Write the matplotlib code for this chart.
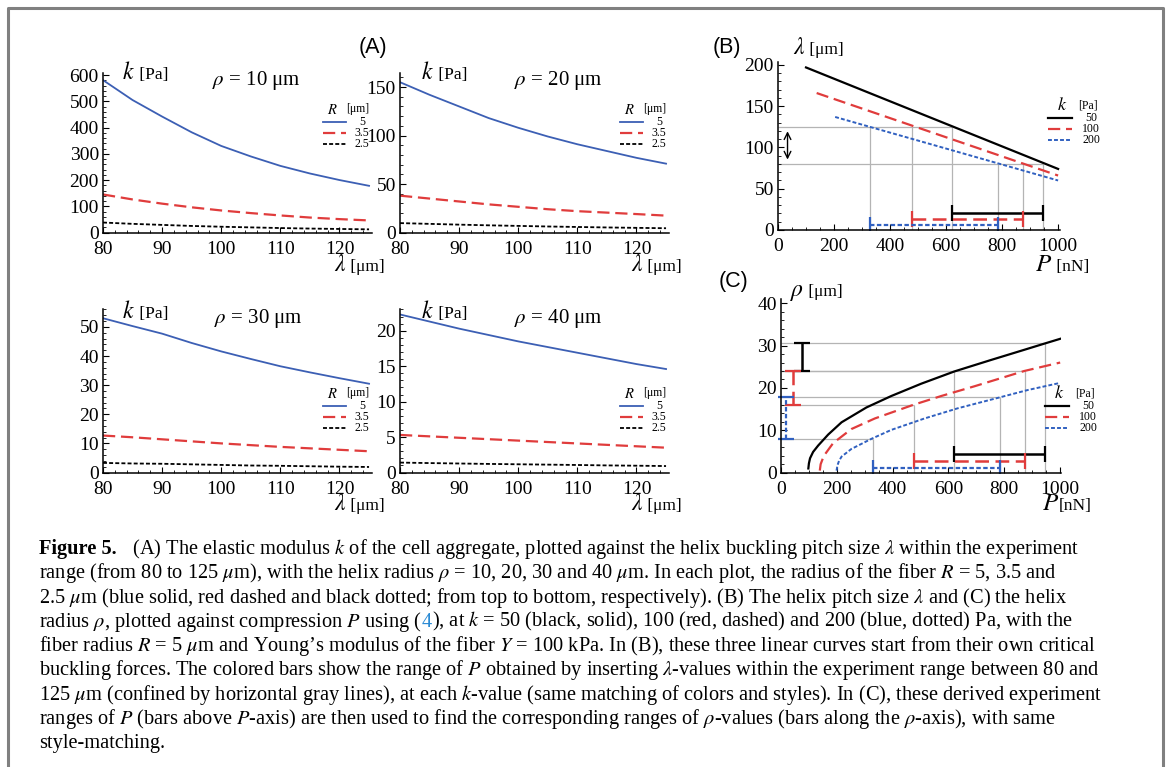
import matplotlib
matplotlib.use('Agg')
import matplotlib.pyplot as plt
from matplotlib.ticker import MultipleLocator

plt.rcParams['font.family'] = ['Liberation Serif', 'DejaVu Serif']
plt.rcParams['mathtext.fontset'] = 'stix'

# ---- data ----
# (A) elastic modulus k [Pa] vs pitch lambda [um], fiber radius R = 5, 3.5, 2.5
lam = [80, 85, 90, 95, 100, 105, 110, 115, 120, 125]
R_labels = ['5', '3.5', '2.5']

k_rho10 = [[581, 505, 442, 382, 330, 290, 254, 225, 200, 178],
           [145, 126, 110, 96, 84, 74, 65, 57, 51, 46],
           [38, 33, 29, 25, 22, 19.5, 17, 15, 13.5, 12]]
k_rho20 = [[155, 142, 130, 118, 108, 99, 91, 84, 77, 71],
           [38, 35, 32, 29, 26.5, 24, 22, 20.5, 19, 17.4],
           [9.7, 8.9, 8.1, 7.4, 6.8, 6.2, 5.7, 5.2, 4.8, 4.4]]
k_rho30 = [[53, 50.3, 47.7, 44.5, 41.6, 39, 36.5, 34.4, 32.4, 30.5],
           [12.7, 12.1, 11.4, 10.7, 10.0, 9.4, 8.8, 8.3, 7.8, 7.3],
           [3.3, 3.1, 3.0, 2.8, 2.6, 2.4, 2.3, 2.15, 2.0, 1.9]]
k_rho40 = [[22.3, 21.3, 20.3, 19.4, 18.5, 17.7, 16.9, 16.1, 15.3, 14.6],
           [5.3, 5.1, 4.9, 4.7, 4.5, 4.3, 4.1, 3.9, 3.7, 3.5],
           [1.4, 1.33, 1.27, 1.21, 1.16, 1.11, 1.06, 1.0, 0.96, 0.91]]

# (B) lambda vs P, straight lines for k = 50, 100, 200 Pa
k_labels = ['50', '100', '200']
P_start = [100, 138, 204]
lam_start = [197, 166, 137]
P_end = [1000, 1000, 1000]
lam_end = [74, 66, 60]
lam_exp = [80, 125]

# P ranges from the experiment lambda range
P_lo = [620, 477, 329]
P_hi = [947, 873, 784]
bar_lam_B = [21, 13.7, 6]

# (C) rho vs P
P_c = [[98, 100, 104, 115, 133, 169, 217, 306, 395, 502, 621, 752, 871, 945, 1000],
       [139, 142, 150, 157, 187, 252, 336, 473, 574, 693, 871, 1000],
       [199, 202, 208, 217, 252, 324, 395, 514, 633, 779, 883, 1000]]
rho_c = [[1.0, 2.2, 3.4, 4.9, 6.4, 9.0, 11.9, 15.4, 18.1, 21.0, 23.9, 26.6, 29.0, 30.5, 31.6],
         [0.5, 2.0, 3.4, 4.3, 7.0, 10.3, 12.8, 16.0, 18.1, 20.4, 24.0, 26.0],
         [0.5, 1.7, 2.8, 3.8, 5.6, 8.0, 10.1, 12.8, 15.2, 17.7, 19.5, 21.2]]
rho_lo = [24.0, 16.0, 8.0]
rho_hi = [30.6, 24.0, 17.8]
bar_P_C = [77, 44, 18]
bar_rho_C = [4.3, 2.8, 1.2]

# ---- styles ----
BLUE = '#3c5fb4'
RED = '#e03c3c'
GRAY = '#b4b4b4'
styleA = [dict(color=BLUE, lw=1.3, ls='-'),
          dict(color=RED, lw=1.6, ls=(0, (5.5, 2.6))),
          dict(color='k', lw=1.3, ls=(0, (2.2, 1.2)))]
styleBC = [dict(color='k', lw=1.6, ls='-'),
           dict(color=RED, lw=1.6, ls=(0, (5.5, 2.6))),
           dict(color='#3060c0', lw=1.4, ls=(0, (2.0, 1.1)))]

W, H = 1167, 767
fig = plt.figure(figsize=(W / 100, H / 100), dpi=100)


def make_ax(left, right, top, bottom, xlim, ylim, xmaj, xmin, ymaj, ymin):
    ax = fig.add_axes([left / W, 1 - bottom / H, (right - left) / W, (bottom - top) / H])
    ax.set_xlim(xlim)
    ax.set_ylim(ylim)
    ax.patch.set_visible(False)
    for s in ['top', 'right']:
        ax.spines[s].set_visible(False)
    for s in ['left', 'bottom']:
        ax.spines[s].set_linewidth(1.1)
    ax.xaxis.set_major_locator(MultipleLocator(xmaj))
    ax.xaxis.set_minor_locator(MultipleLocator(xmin))
    ax.yaxis.set_major_locator(MultipleLocator(ymaj))
    ax.yaxis.set_minor_locator(MultipleLocator(ymin))
    ax.tick_params(direction='in', length=4, width=0.8, labelsize=14)
    ax.tick_params(axis='x', pad=6)
    ax.tick_params(axis='y', pad=3)
    ax.tick_params(which='minor', direction='in', length=2, width=0.6)
    return ax


# (A) panels
boxes_A = [(103, 372, 72.5, 232.5, 610, 100, 20),
           (400, 669, 72.5, 232.5, 165, 50, 10),
           (103, 372, 309.5, 472.5, 56, 10, 2),
           (400, 669, 309.5, 472.5, 23, 5, 1)]
data_A = [k_rho10, k_rho20, k_rho30, k_rho40]
for (l, r, t, b, ytop, ymaj, ymin), series in zip(boxes_A, data_A):
    ax = make_ax(l, r, t, b, (80, 125.5), (0, ytop), 10, 2, ymaj, ymin)
    for vals, st in zip(series, styleA):
        ax.plot(lam, vals, **st)

# (B) panel
axB = make_ax(778, 1059.5, 62.5, 230, (0, 1005), (0, 203), 200, 50, 50, 10)
axB.hlines(lam_exp[1], 0, max(P_lo), color=GRAY, lw=0.9, zorder=1)
axB.hlines(lam_exp[0], 0, max(P_hi), color=GRAY, lw=0.9, zorder=1)
axB.vlines(P_lo, 0, lam_exp[1], color=GRAY, lw=0.9, zorder=1)
axB.vlines(P_hi, 0, lam_exp[0], color=GRAY, lw=0.9, zorder=1)
for i, st in enumerate(styleBC):
    axB.plot([P_start[i], P_end[i]], [lam_start[i], lam_end[i]], **st)
    mid = (P_lo[i] + P_hi[i]) / 2
    eb = axB.errorbar(mid, bar_lam_B[i], xerr=[[mid - P_lo[i]], [P_hi[i] - mid]], fmt='none',
                      ecolor=st['color'], elinewidth=st['lw'] + 0.2, capsize=6, capthick=1.6)
    eb[2][0].set_linestyle(st['ls'])
axB.annotate('', xy=(34, 123), xytext=(34, 82),
             arrowprops=dict(arrowstyle='<->', color='k', lw=1.0, mutation_scale=12))

# (C) panel
axC = make_ax(781, 1061, 299, 472.7, (0, 1003), (0, 41), 200, 50, 10, 2)
for i in range(3):
    axC.hlines(rho_lo[i], 0, P_lo[i], color=GRAY, lw=0.9, zorder=1)
    axC.hlines(rho_hi[i], 0, P_hi[i], color=GRAY, lw=0.9, zorder=1)
    axC.vlines(P_lo[i], 0, rho_lo[i], color=GRAY, lw=0.9, zorder=1)
    axC.vlines(P_hi[i], 0, rho_hi[i], color=GRAY, lw=0.9, zorder=1)
for i, st in enumerate(styleBC):
    axC.plot(P_c[i], rho_c[i], **st)
    mid = (P_lo[i] + P_hi[i]) / 2
    eb = axC.errorbar(mid, bar_rho_C[i], xerr=[[mid - P_lo[i]], [P_hi[i] - mid]], fmt='none',
                      ecolor=st['color'], elinewidth=st['lw'] + 0.2, capsize=6, capthick=1.6)
    eb[2][0].set_linestyle(st['ls'])
    mid = (rho_lo[i] + rho_hi[i]) / 2
    eb = axC.errorbar(bar_P_C[i], mid, yerr=[[mid - rho_lo[i]], [rho_hi[i] - mid]], fmt='none',
                      ecolor=st['color'], elinewidth=st['lw'] + 0.2, capsize=6, capthick=1.6,
                      clip_on=False)
    eb[2][0].set_linestyle(st['ls'])

# overlay in pixel coordinates for labels, legends, caption, frame
ov = fig.add_axes([0, 0, 1, 1])
ov.set_xlim(0, W)
ov.set_ylim(H, 0)
ov.axis('off')
ov.patch.set_visible(False)
renderer = fig.canvas.get_renderer()


def run(x, y, pieces):
    # draw text pieces one after another on a common baseline
    for txt, kw in pieces:
        t = ov.text(x, y, txt, ha='left', va='baseline', **kw)
        x += t.get_window_extent(renderer=renderer).width
    return x


ov.plot([8, 8, 1163, 1163], [H + 5, 8, 8, H + 5], color='#808080', lw=2.2, clip_on=False)

ov.text(373, 47, '(A)', family='Liberation Sans', fontsize=15.5, ha='center', va='center')
ov.text(727, 48, '(B)', family='Liberation Sans', fontsize=15.5, ha='center', va='center')
ov.text(733, 281, '(C)', family='Liberation Sans', fontsize=15.5, ha='center', va='center')

ital = dict(fontsize=17)
small = dict(fontsize=12.5)
for (x, y) in [(122, 79), (421, 79), (122, 318), (421, 318)]:
    run(x, y, [(r'$k$', ital), (' [Pa]', small)])
for (x, y), rho in zip([(256, 81), (558, 81), (258, 319), (558, 319)], ['10', '20', '30', '40']):
    ov.text(x, y, r'$\rho$ = ' + rho + ' μm', fontsize=15, ha='center', va='center')
for (x, y) in [(334, 271), (631, 271), (334, 510), (631, 510)]:
    run(x, y, [(r'$\lambda$', ital), (' [μm]', small)])
run(793, 54, [(r'$\lambda$', ital), (' [μm]', small)])
run(1035, 271, [(r'$P$', dict(fontsize=18)), (' [nN]', small)])
run(790, 296, [(r'$\rho$', ital), (' [μm]', small)])
run(1042, 510, [(r'$P$', dict(fontsize=18)), ('[nN]', small)])

# legends (A)
for hx, hy in [(332, 110), (629, 110), (332, 394), (629, 394)]:
    ov.text(hx, hy, r'$R$', fontsize=10.5, ha='center', va='center')
    ov.text(hx + 26, hy - 1, '[μm]', fontsize=8.5, ha='center', va='center')
    for j, st in enumerate(styleA):
        yy = hy + 12 + 11 * j
        ov.plot([hx - 9, hx + 14], [yy, yy], **st)
        ov.text(hx + 30, yy, R_labels[j], fontsize=8.5, ha='center', va='center')

# legends (B) and (C)
for hx, hy in [(1062, 105), (1059, 393)]:
    ov.text(hx, hy, r'$k$', fontsize=13, ha='center', va='center')
    ov.text(hx + 26, hy + 1, '[Pa]', fontsize=8.5, ha='center', va='center')
    for j, st in enumerate(styleBC):
        yy = hy + 13 + 11 * j
        ov.plot([hx - 14, hx + 10], [yy, yy], **st)
        ov.text(hx + 29, yy, k_labels[j], fontsize=8.5, ha='center', va='center')

# caption
cap_size = 14.7
norm = dict(fontsize=cap_size)
bold = dict(fontsize=cap_size, weight='bold')
blue = dict(fontsize=cap_size, color='#2a8ad4')
caption = [
    [('Figure 5.', bold), ('   (A) The elastic modulus $k$ of the cell aggregate, plotted against the helix buckling pitch size $\\lambda$ within the experiment', norm)],
    [('range (from 80 to 125 $\\mu$m), with the helix radius $\\rho$ = 10, 20, 30 and 40 $\\mu$m. In each plot, the radius of the fiber $R$ = 5, 3.5 and', norm)],
    [('2.5 $\\mu$m (blue solid, red dashed and black dotted; from top to bottom, respectively). (B) The helix pitch size $\\lambda$ and (C) the helix', norm)],
    [('radius $\\rho$, plotted against compression $P$ using (', norm), ('4', blue), ('), at $k$ = 50 (black, solid), 100 (red, dashed) and 200 (blue, dotted) Pa, with the', norm)],
    [('fiber radius $R$ = 5 $\\mu$m and Young\u2019s modulus of the fiber $Y$ = 100 kPa. In (B), these three linear curves start from their own critical', norm)],
    [('buckling forces. The colored bars show the range of $P$ obtained by inserting $\\lambda$-values within the experiment range between 80 and', norm)],
    [('125 $\\mu$m (confined by horizontal gray lines), at each $k$-value (same matching of colors and styles). In (C), these derived experiment', norm)],
    [('ranges of $P$ (bars above $P$-axis) are then used to find the corresponding ranges of $\\rho$-values (bars along the $\\rho$-axis), with same', norm)],
    [('style-matching.', norm)],
]
for i, pieces in enumerate(caption):
    run(39, 554 + 24.3 * i, pieces)

fig.savefig('out.png', dpi=100)
